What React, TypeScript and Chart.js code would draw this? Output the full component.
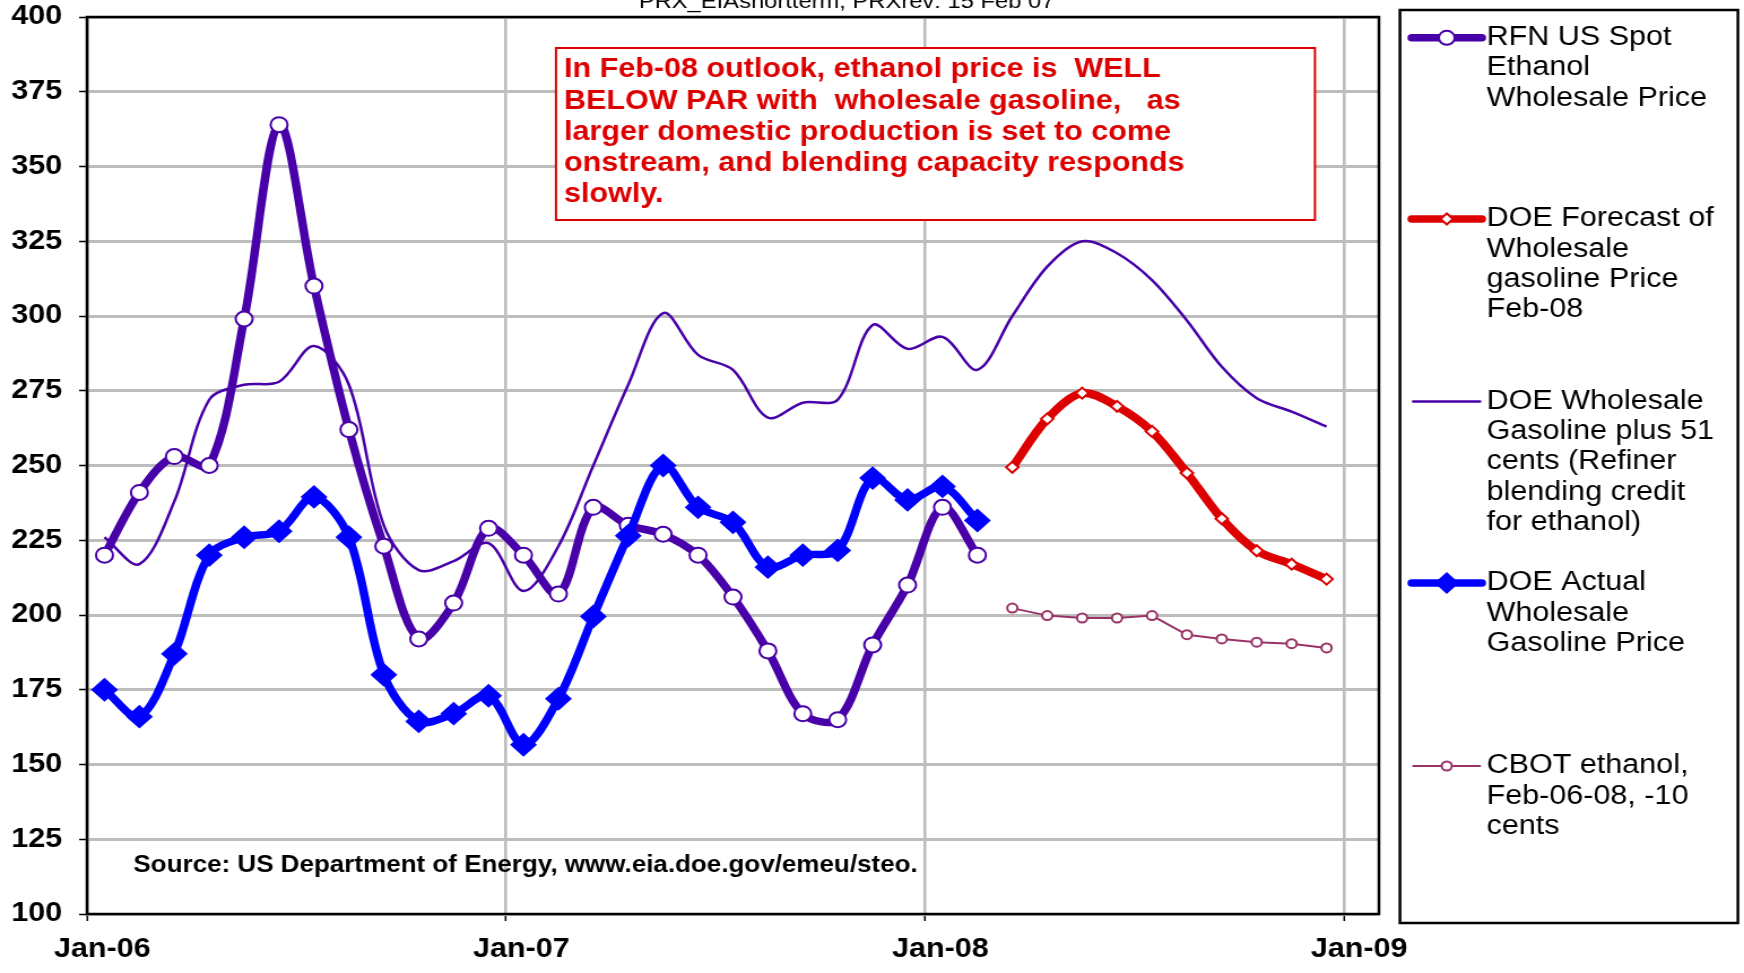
import React, { useEffect, useRef } from 'react';
import { Chart, registerables } from 'chart.js';

Chart.register(...registerables);

// Canvas is drawn narrower and stretched horizontally (reference is a stretched Excel chart)
const W = 1543;
const H = 973;
const FONT = '"Liberation Sans", Arial, Helvetica, sans-serif';

// ---- data (monthly, Jan-06 = index 0) ----
const xTickValues = [0, 12, 24, 36];
const xTickLabels = ['Jan-06', 'Jan-07', 'Jan-08', 'Jan-09'];
const yTickValues = [100, 125, 150, 175, 200, 225, 250, 275, 300, 325, 350, 375, 400];

// Jan-06 .. Feb-08
const rfnEthanol = [220, 241, 253, 250, 299, 364, 310, 262, 223, 192, 204, 229,
  220, 207, 236, 230, 227, 220, 206, 188, 167, 165, 190, 210,
  236, 220];
// Jan-06 .. Feb-08
const doeActual = [175, 166, 187, 220, 226, 228, 239.5, 226, 180, 164.4, 167, 173,
  156.6, 172, 199.5, 226.5, 250, 236, 231, 216, 220, 221.6, 245.8, 238.5,
  243, 231.6];
// Jan-06 .. Dec-08
const doePlus51 = [226, 217, 238, 272, 277, 278, 290, 277, 230, 215, 218, 224,
  208, 223, 250, 277, 301, 287, 282, 266, 271, 272, 297, 289,
  293, 282, 300, 316.5, 325, 321, 312, 298.5, 283, 272.5, 268, 263];
// Mar-08 .. Dec-08
const doeForecast = [249.4, 265.6, 274.2, 269.8, 261.4, 247.5, 232.2, 221.5, 217, 212];
const cbotEthanol = [202.3, 199.8, 199, 199, 199.8, 193.4, 192, 190.9, 190.4, 189];
const HIST_START = 0;
const FORECAST_START = 26;

const legendLabels = [
  ['RFN US Spot', 'Ethanol', 'Wholesale Price'],
  ['DOE Forecast of', 'Wholesale', 'gasoline Price', 'Feb-08'],
  ['DOE Wholesale', 'Gasoline plus 51', 'cents (Refiner', 'blending credit', 'for ethanol)'],
  ['DOE Actual', 'Wholesale', 'Gasoline Price'],
  ['CBOT ethanol,', 'Feb-06-08, -10', 'cents'],
];
const annotationLines = [
  'In Feb-08 outlook, ethanol price is  WELL',
  'BELOW PAR with  wholesale gasoline,   as',
  'larger domestic production is set to come',
  'onstream, and blending capacity responds',
  'slowly.',
];
const sourceText = 'Source: US Department of Energy, www.eia.doe.gov/emeu/steo.';
const topTitle = 'PRX_EIAshortterm, PRXrev: 15 Feb 07';

const PURPLE = '#4800A8';
const BLUE = '#0000FF';
const RED = '#DD0000';
const CBOT = '#993366';
const GRID = '#BDBDBD';

const toPoints = (vals: number[], start: number) =>
  vals.map((v, i) => ({ x: start + i + 0.5, y: v }));

function drawMarker(ctx: CanvasRenderingContext2D, kind: string, x: number, y: number, r: number, fill: string, stroke: string, bw: number) {
  ctx.beginPath();
  if (kind === 'circle') {
    ctx.arc(x, y, r, 0, Math.PI * 2);
  } else {
    ctx.moveTo(x - r, y);
    ctx.lineTo(x, y - r);
    ctx.lineTo(x + r, y);
    ctx.lineTo(x, y + r);
    ctx.closePath();
  }
  ctx.fillStyle = fill;
  ctx.fill();
  ctx.lineWidth = bw;
  ctx.strokeStyle = stroke;
  ctx.stroke();
}

const decorPlugin = {
  id: 'decor',
  beforeDatasetsDraw(chart: any) {
    const { ctx, chartArea: a } = chart;
    ctx.save();
    // annotation box
    const bx = 491.9, by = 48, bw = 1163.4 - 491.9, bh = 172;
    ctx.fillStyle = '#FFFFFF';
    ctx.fillRect(bx, by, bw, bh);
    ctx.strokeStyle = RED;
    ctx.lineWidth = 2;
    ctx.strokeRect(bx, by, bw, bh);
    ctx.fillStyle = RED;
    ctx.font = `bold 27px ${FONT}`;
    ctx.textBaseline = 'middle';
    ctx.textAlign = 'left';
    annotationLines.forEach((t, i) => ctx.fillText(t, 499, 70 + i * 31.1));
    // source
    ctx.fillStyle = '#000';
    ctx.font = `bold 23px ${FONT}`;
    ctx.fillText(sourceText, 118, 866);
    // plot border
    ctx.strokeStyle = '#000';
    ctx.lineWidth = 2.5;
    ctx.strokeRect(a.left, a.top, a.right - a.left, a.bottom - a.top);
    ctx.restore();
  },
  afterDraw(chart: any) {
    const { ctx } = chart;
    ctx.save();
    // top (cut-off) title
    ctx.fillStyle = '#000';
    ctx.font = `21px ${FONT}`;
    ctx.textAlign = 'center';
    ctx.textBaseline = 'alphabetic';
    ctx.fillText(topTitle, 749, 8);
    // legend box
    ctx.strokeStyle = '#000';
    ctx.lineWidth = 2.5;
    ctx.strokeRect(1238.6, 10, 1537.6 - 1238.6, 913);
    const ys = [37.8, 219, 401.5, 583, 766];
    const styles = [
      { color: PURPLE, lw: 7.5, marker: 'circle', r: 7, fill: '#fff', bw: 2, x0: 1249, x1: 1311 },
      { color: RED, lw: 7.5, marker: 'diamond', r: 5.5, fill: '#fff', bw: 2, x0: 1249, x1: 1311 },
      { color: PURPLE, lw: 2.5, marker: 'none', r: 0, fill: '', bw: 0, x0: 1250.4, x1: 1309.4 },
      { color: BLUE, lw: 7.5, marker: 'diamond', r: 9.5, fill: BLUE, bw: 2, x0: 1249, x1: 1311 },
      { color: CBOT, lw: 2, marker: 'circle', r: 4.5, fill: '#fff', bw: 2, x0: 1250.4, x1: 1309.4 },
    ];
    styles.forEach((s, i) => {
      const y = ys[i];
      ctx.beginPath();
      ctx.lineCap = 'round';
      ctx.strokeStyle = s.color;
      ctx.lineWidth = s.lw;
      ctx.moveTo(s.x0, y);
      ctx.lineTo(s.x1, y);
      ctx.stroke();
      if (s.marker !== 'none') drawMarker(ctx, s.marker, 1280, y, s.r, s.fill, s.color, s.bw);
      ctx.fillStyle = '#000';
      ctx.font = `27px ${FONT}`;
      ctx.textAlign = 'left';
      ctx.textBaseline = 'middle';
      legendLabels[i].forEach((t, j) => ctx.fillText(t, 1315.3, y + j * 30.2));
    });
    ctx.restore();
  },
};

export default function App() {
  const ref = useRef<HTMLCanvasElement | null>(null);
  useEffect(() => {
    document.body.style.margin = '0';
    document.body.style.overflow = 'hidden';
    const canvas = ref.current;
    if (!canvas) return;
    const chart = new Chart(canvas, {
      type: 'line',
      data: {
        datasets: [
          {
            label: 'DOE Actual Wholesale Gasoline Price',
            data: toPoints(doeActual, HIST_START),
            borderColor: BLUE,
            backgroundColor: BLUE,
            borderWidth: 7.5,
            tension: 0.33,
            pointStyle: 'rectRot',
            pointRadius: 10.5,
            pointBorderWidth: 2,
            pointBackgroundColor: BLUE,
            pointBorderColor: BLUE,
            borderCapStyle: 'round',
            borderJoinStyle: 'round',
            order: 1,
          },
          {
            label: 'RFN US Spot Ethanol Wholesale Price',
            data: toPoints(rfnEthanol, HIST_START),
            borderColor: PURPLE,
            backgroundColor: '#fff',
            borderWidth: 7.5,
            tension: 0.33,
            pointStyle: 'circle',
            pointRadius: 7.5,
            pointBorderWidth: 2,
            pointBackgroundColor: '#fff',
            pointBorderColor: PURPLE,
            borderCapStyle: 'round',
            borderJoinStyle: 'round',
            order: 2,
          },
          {
            label: 'DOE Wholesale Gasoline plus 51 cents',
            data: toPoints(doePlus51, HIST_START),
            borderColor: PURPLE,
            borderWidth: 2.5,
            tension: 0.33,
            pointRadius: 0,
            order: 3,
          },
          {
            label: 'DOE Forecast of Wholesale gasoline Price Feb-08',
            data: toPoints(doeForecast, FORECAST_START),
            borderColor: RED,
            borderWidth: 8,
            tension: 0.33,
            pointStyle: 'rectRot',
            pointRadius: 5.5,
            pointBorderWidth: 2,
            pointBackgroundColor: '#fff',
            pointBorderColor: RED,
            borderCapStyle: 'round',
            borderJoinStyle: 'round',
            order: 1,
          },
          {
            label: 'CBOT ethanol, Feb-06-08, -10 cents',
            data: toPoints(cbotEthanol, FORECAST_START),
            borderColor: CBOT,
            borderWidth: 2,
            tension: 0,
            pointStyle: 'circle',
            pointRadius: 4.5,
            pointBorderWidth: 2,
            pointBackgroundColor: '#fff',
            pointBorderColor: CBOT,
            order: 1,
          },
        ],
      },
      options: {
        animation: false,
        responsive: false,
        maintainAspectRatio: false,
        devicePixelRatio: 1,
        layout: { padding: { left: 0, right: W - 1220, top: 17, bottom: 0 } },
        plugins: {
          legend: { display: false },
          tooltip: { enabled: false },
          title: { display: false },
        },
        scales: {
          x: {
            type: 'linear',
            min: 0,
            max: 37,
            afterBuildTicks: (s: any) => { s.ticks = xTickValues.map((v) => ({ value: v })); },
            afterFit: (s: any) => {
              s.height = H - 914;
              s.paddingLeft = 0; s.paddingRight = 0; s.paddingTop = 0; s.paddingBottom = 0;
            },
            border: { display: false },
            grid: { color: GRID, lineWidth: 2.6, tickLength: 7, tickColor: '#000', tickWidth: 1.5 },
            ticks: {
              autoSkip: false,
              maxRotation: 0,
              labelOffset: 13.5,
              padding: 12,
              color: '#000',
              font: { family: FONT, size: 27, weight: 'bold' },
              callback: (v: any) => xTickLabels[xTickValues.indexOf(Number(v))] ?? '',
            },
          },
          y: {
            type: 'linear',
            min: 100,
            max: 400,
            afterBuildTicks: (s: any) => { s.ticks = yTickValues.map((v) => ({ value: v })); },
            afterFit: (s: any) => {
              s.width = 77;
              s.paddingLeft = 0; s.paddingRight = 0; s.paddingTop = 0; s.paddingBottom = 0;
            },
            border: { display: false },
            grid: { color: GRID, lineWidth: 3, tickLength: 7, tickColor: '#000', tickWidth: 1.5 },
            ticks: {
              padding: 15,
              color: '#000',
              font: { family: FONT, size: 27, weight: 'bold' },
            },
          },
        },
      },
      plugins: [decorPlugin],
    } as any);
    return () => chart.destroy();
  }, []);
  return (
    <div style={{ width: 1744, height: 973, overflow: 'hidden', background: '#fff' }}>
      <canvas ref={ref} width={W} height={H} style={{ width: '1744px', height: '973px', display: 'block' }} />
    </div>
  );
}
